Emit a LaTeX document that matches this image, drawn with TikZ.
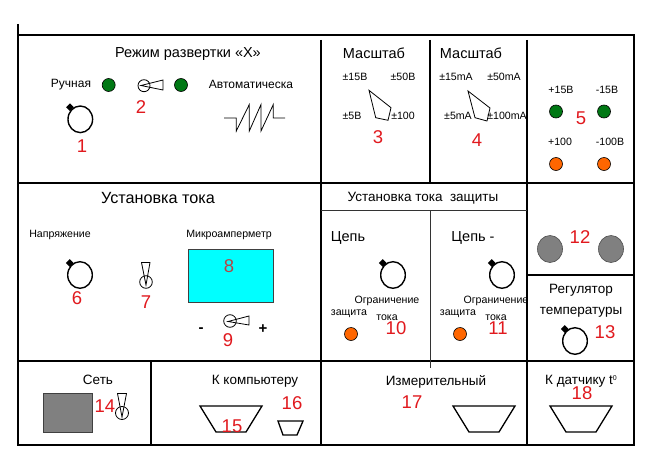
\documentclass[tikz,border=0pt]{standalone}
\usepackage{fontspec}
\setmainfont{Liberation Sans}
\definecolor{ledgreen}{RGB}{0,120,20}
\definecolor{ledorange}{RGB}{255,102,0}
\definecolor{numred}{RGB}{225,25,30}
\definecolor{panelgray}{RGB}{128,128,128}
\definecolor{boxcyan}{RGB}{0,255,255}
\tikzset{
  frameline/.style={line width=1.5pt,black},
  thinline/.style={line width=0.8pt,black!80},
  shapeline/.style={line width=0.8pt,black,line join=miter},
  plugline/.style={line width=1.3pt,black,line join=miter},
  knobline/.style={line width=1.4pt,black},
  huge16/.style={inner sep=0pt,text depth=0pt,font=\fontsize{16.2}{18}\selectfont},
  big/.style={inner sep=0pt,text depth=0pt,font=\fontsize{14.5}{16}\selectfont},
  mid/.style={inner sep=0pt,text depth=0pt,font=\fontsize{13.5}{15}\selectfont},
  upper/.style={inner sep=0pt,text depth=0pt,font=\fontsize{12}{14}\selectfont},
  small/.style={inner sep=0pt,text depth=0pt,font=\fontsize{10.6}{12}\selectfont},
  num/.style={inner sep=0pt,text=numred,font=\fontsize{18.5}{20}\selectfont},
  greenled/.style={circle,draw=black,line width=0.6pt,fill=ledgreen,minimum size=13pt,inner sep=0pt},
  orangeled/.style={circle,draw=black,line width=0.6pt,fill=ledorange,minimum size=13pt,inner sep=0pt},
  grayknob/.style={draw=black!70,line width=0.6pt,fill=panelgray},
}
\newcommand{\myknob}[2]{%
  \draw[knobline] (#1,#2) circle[x radius=12.3pt,y radius=13.3pt];
  \fill[black,rotate around={45:(#1-10.3,#2-12)}] (#1-13,#2-14.7) rectangle (#1-7.6,#2-9.3);
}
\begin{document}
\begin{tikzpicture}[x=1pt,y=-1pt]
\useasboundingbox (0,0) rectangle (655,460);
\fill[white] (0,0) rectangle (655,460);
% frame
\draw[frameline] (18,24) -- (18,445) -- (634,445) -- (634,35) -- (18,35);
\draw[frameline] (18,183) -- (634,183);
\draw[frameline] (18,361) -- (634,361);
\draw[frameline] (321,40) -- (321,445);
\draw[frameline] (430,40) -- (430,183);
\draw[frameline] (527,40) -- (527,445);
\draw[frameline] (151,361) -- (151,445);
\draw[frameline] (527,275) -- (634,275);
\draw[thinline] (321,210) -- (527,210);
\draw[thinline] (430,210) -- (430,368);
% panel 1
\node[big] (t1) at (188,53) {Режим развертки «Х»};
\node[upper] (t2) at (71,83) {Ручная};
\node[upper] (t3) at (251,84) {Автоматическа};
\node[greenled] (l1) at (108.7,85) {};
\node[greenled] (l2) at (181,85) {};
\draw[shapeline] (144,85.7) circle[radius=6pt];
\draw[shapeline] (141,85.5) -- (163,80) -- (163,90) -- cycle;
\myknob{80.3}{119.3}
\draw[shapeline] (224,118) -- (236.3,118) -- (236.3,131) -- (249.3,104.5) -- (249.3,131) -- (261,104.5) -- (261,131) -- (273.3,104.5) -- (273.3,118) -- (285,118);
\node[num] (n1) at (82,146) {1};
\node[num] (n2) at (141,107) {2};
% panel 3
\node[big] (t4) at (374,53) {Масштаб};
\node[small] (t5) at (355,77) {±15В};
\node[small] (t6) at (403,77) {±50В};
\node[small] (t7) at (352,116) {±5В};
\node[small] (t8) at (403,116) {±100};
\draw[shapeline] (369,90.3) -- (391,107.7) -- (388,120.3) -- (375.7,117.7) -- cycle;
\node[num] (n3) at (378,137) {3};
% panel 4
\node[big] (t9) at (471,53) {Масштаб};
\node[small] (t10) at (456,77) {±15mA};
\node[small] (t11) at (504,77) {±50mA};
\node[small] (t12) at (458,116) {±5mA};
\node[small] (t13) at (507,116) {±100mA};
\draw[shapeline] (468,91) -- (490,108) -- (487,121) -- (475,117.7) -- cycle;
\node[num] (n4) at (477,140) {4};
% panel 5
\node[small] (t14) at (561,90) {+15В};
\node[small] (t15) at (607,90) {-15В};
\node[small] (t16) at (560,142) {+100};
\node[small] (t17) at (610,142) {-100В};
\node[greenled] (l3) at (556,111.5) {};
\node[greenled] (l4) at (604,111.5) {};
\node[orangeled] (l5) at (556,164) {};
\node[orangeled] (l6) at (604,164) {};
\node[num] (n5) at (581,118) {5};
% current setting
\node[huge16] (t18) at (158,198) {Установка тока};
\node[small] (t19) at (60,234) {Напряжение};
\node[small] (t20) at (229,234) {Микроамперметр};
\myknob{80}{275}
\node[num] (n6) at (77,298) {6};
\draw[shapeline] (146,282) circle[radius=6.3pt];
\draw[shapeline] (141.5,262.5) -- (150,262.5) -- (146,285) -- cycle;
\node[num] (n7) at (146,302) {7};
\draw[line width=0.8pt,draw=black!75,fill=boxcyan] (188,249) rectangle (273,302);
\node[num,text={rgb,255:red,180;green,70;blue,70}] (n8) at (229,266) {8};
\draw[shapeline] (230,321) circle[radius=6.3pt];
\draw[shapeline] (228,321.5) -- (249,316) -- (249,325) -- cycle;
\node[inner sep=0pt,font=\bfseries\fontsize{15}{17}\selectfont] (t21) at (201,330) {-};
\node[inner sep=0pt,font=\bfseries\fontsize{15}{17}\selectfont] (t22) at (263,329) {+};
\node[num] (n9) at (228,340) {9};
% protection
\node[mid] (t23) at (423,197) {Установка тока\ \ защиты};
\node[big] (t24) at (348,237) {Цепь};
\node[big] (t25) at (473,237) {Цепь -};
\myknob{393}{275}
\myknob{502}{275}
\node[small] (t26) at (387,300) {Ограничение};
\node[small] (t27) at (349,313) {защита};
\node[small] (t28) at (387,318) {тока};
\node[orangeled] (l7) at (351,334) {};
\node[num] (n10) at (396,328) {10};
\node[small] (t29) at (496,300) {Ограничение};
\node[small] (t30) at (458,313) {защита};
\node[small] (t31) at (496,318) {тока};
\node[orangeled] (l8) at (460,334) {};
\node[num] (n11) at (498,328) {11};
% right column
\draw[grayknob] (550,249) circle[x radius=12.5pt,y radius=13.5pt];
\draw[grayknob] (611,249) circle[x radius=12.5pt,y radius=13.5pt];
\node[num] (n12) at (580,237) {12};
\node[mid] (t32) at (581,289) {Регулятор};
\node[mid] (t33) at (581,311) {температуры};
\myknob{575}{341}
\node[num] (n13) at (605,332) {13};
% bottom row
\node[mid] (t34) at (98,380) {Сеть};
\draw[line width=0.7pt,draw=black!75,fill=panelgray] (43,393) rectangle (92,432);
\node[num] (n14) at (105,406) {14};
\draw[shapeline] (122,413) circle[radius=6.5pt];
\draw[shapeline] (117.5,393.5) -- (126.5,393.5) -- (122,417) -- cycle;
\node[mid] (t35) at (255,380) {К компьютеру};
\draw[plugline] (200,406) -- (262,406) -- (246,432) -- (216,432) -- cycle;
\node[num] (n15) at (232,426) {15};
\draw[plugline] (278,421) -- (303,421) -- (297,435) -- (283,435) -- cycle;
\node[num] (n16) at (292,403) {16};
\node[mid] (t36) at (436,380) {Измерительный};
\node[num] (n17) at (412,402) {17};
\draw[plugline] (453,406) -- (515,406) -- (499,432) -- (469,432) -- cycle;
\node[mid] (t37) at (581,380) {К датчику t\raisebox{4.5pt}{\fontsize{7}{8}\selectfont 0}};
\node[num] (n18) at (582,393) {18};
\draw[plugline] (550,406) -- (612,406) -- (596,432) -- (566,432) -- cycle;
\end{tikzpicture}
\end{document}
